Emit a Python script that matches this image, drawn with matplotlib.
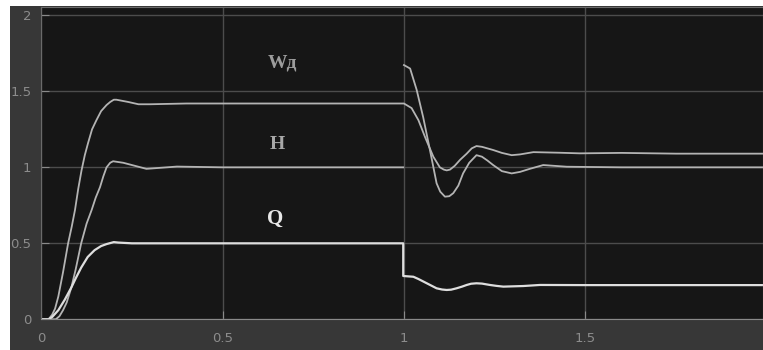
import matplotlib.pyplot as plt
from matplotlib.patches import Rectangle

# values (time in s); nan = gap where the trace jumps
nan = float("nan")

t_w = [0.0, 0.02, 0.03, 0.038, 0.047, 0.06, 0.074, 0.084, 0.093, 0.102, 0.111, 0.12, 0.129,
       0.14, 0.152, 0.165, 0.18, 0.19, 0.2, 0.207, 0.24, 0.268, 0.3, 0.4, 0.6, 0.8, 1.0,
       1.021, 1.04, 1.058, 1.081, 1.099, 1.11, 1.118, 1.127, 1.14, 1.155, 1.173, 1.187,
       1.2, 1.215, 1.246, 1.27, 1.297, 1.32, 1.357, 1.43, 1.485, 1.6, 1.75, 1.99]
w_d = [0.0, 0.0, 0.03, 0.07, 0.15, 0.31, 0.5, 0.61, 0.72, 0.86, 0.98, 1.08, 1.16,
       1.25, 1.31, 1.37, 1.41, 1.43, 1.445, 1.445, 1.43, 1.415, 1.415, 1.42, 1.42, 1.42, 1.42,
       1.39, 1.31, 1.2, 1.07, 1.0, 0.985, 0.98, 0.985, 1.01, 1.05, 1.09, 1.125,
       1.14, 1.135, 1.114, 1.095, 1.08, 1.085, 1.1, 1.096, 1.092, 1.095, 1.09, 1.09]

t_h = [0.0, 0.04, 0.05, 0.06, 0.07, 0.083, 0.095, 0.11, 0.125, 0.139, 0.15, 0.162, 0.171,
       0.18, 0.19, 0.198, 0.226, 0.29, 0.374, 0.5, 0.8, 0.998, 0.999, 1.0,
       1.017, 1.035, 1.053, 1.072, 1.09, 1.1, 1.113, 1.125, 1.136, 1.15, 1.163, 1.18, 1.2,
       1.215, 1.23, 1.246, 1.27, 1.297, 1.32, 1.347, 1.384, 1.449, 1.6, 1.8, 1.99]
h = [0.0, 0.0, 0.02, 0.06, 0.11, 0.21, 0.33, 0.5, 0.63, 0.72, 0.8, 0.87, 0.94,
     1.0, 1.03, 1.04, 1.03, 0.99, 1.005, 1.0, 1.0, 1.0, nan, 1.673,
     1.65, 1.51, 1.33, 1.11, 0.895, 0.84, 0.807, 0.81, 0.83, 0.88, 0.96, 1.03, 1.08,
     1.07, 1.045, 1.015, 0.975, 0.96, 0.97, 0.99, 1.015, 1.004, 1.0, 1.0, 1.0]

t_q = [0.0, 0.02, 0.03, 0.047, 0.065, 0.083, 0.095, 0.11, 0.128, 0.147, 0.165, 0.18, 0.2,
       0.212, 0.25, 0.4, 0.7, 0.998, 0.998, 1.026, 1.04, 1.063, 1.09, 1.105, 1.118, 1.13,
       1.145, 1.16, 1.173, 1.185, 1.2, 1.215, 1.237, 1.255, 1.274, 1.329, 1.375,
       1.5, 1.7, 1.99]
q = [0.0, 0.0, 0.015, 0.06, 0.13, 0.21, 0.27, 0.34, 0.41, 0.455, 0.482, 0.495, 0.508,
     0.505, 0.5, 0.5, 0.5, 0.5, 0.285, 0.28, 0.265, 0.237, 0.204, 0.196, 0.193, 0.195,
     0.204, 0.215, 0.226, 0.234, 0.237, 0.235, 0.226, 0.22, 0.215, 0.219, 0.226,
     0.225, 0.225, 0.225]

x_ticks = [0, 0.5, 1, 1.5]
x_labels = ["0", "0.5", "1", "1.5"]
y_ticks = [0, 0.5, 1, 1.5, 2]
y_labels = ["0", "0.5", "1", "1.5", "2"]

fig = plt.figure(figsize=(7.63, 3.5), dpi=100, facecolor="#373737")
# white scan margins on top and left
fig.patches.append(Rectangle((0, 0.983), 1, 0.017, transform=fig.transFigure,
                             facecolor="white", edgecolor="none", zorder=0))
fig.patches.append(Rectangle((0, 0), 0.013, 1, transform=fig.transFigure,
                             facecolor="white", edgecolor="none", zorder=0))

ax = fig.add_axes([0.0541, 0.0877, 0.9459, 0.8923], facecolor="#161616")

ax.plot(t_w, w_d, color="#b4b4b4", linewidth=1.3)
ax.plot(t_h, h, color="#b4b4b4", linewidth=1.3)
ax.plot(t_q, q, color="#dedede", linewidth=1.6)

ax.text(0.666, 1.687, "Wд", color="#9c9c9c", fontsize=14, fontweight="bold",
        family="Liberation Serif", ha="center", va="center")
ax.text(0.650, 1.147, "H", color="#a8a8a8", fontsize=14, fontweight="bold",
        family="Liberation Serif", ha="center", va="center")
ax.text(0.644, 0.66, "Q", color="#e8e8e8", fontsize=15, fontweight="bold",
        family="Liberation Serif", ha="center", va="center")

ax.set_xlim(0, 1.99)
ax.set_ylim(0, 2.055)
ax.set_xticks(x_ticks)
ax.set_xticklabels(x_labels)
ax.set_yticks(y_ticks)
ax.set_yticklabels(y_labels)
ax.grid(True, color="#4c4c4c", linewidth=1.0)
ax.tick_params(direction="in", length=6, color="#8a8a8a", labelcolor="#8c8c8c",
               labelsize=9.5)
ax.tick_params(axis="x", pad=9)
ax.tick_params(axis="y", pad=7)
for s in ax.spines.values():
    s.set_color("#6a6a6a")
ax.spines["bottom"].set_color("#8a8a8a")

fig.savefig("out.png", dpi=100, facecolor=fig.get_facecolor())
